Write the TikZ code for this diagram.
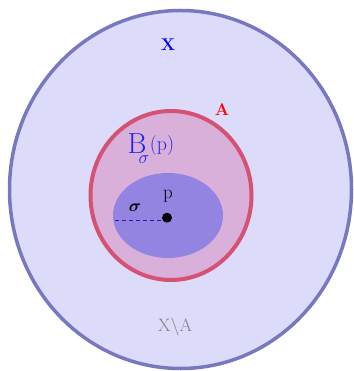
\documentclass[tikz,border=0pt]{standalone}
\usepackage{fix-cm}
\usepackage{amsmath, amssymb}
\usepackage{fontspec}
\usepackage[dvipsnames]{xcolor}
\usepackage{tikz}

\definecolor{spacefill}{RGB}{220,220,250}
\definecolor{spaceline}{RGB}{120,120,192}
\definecolor{setfill}{RGB}{216,176,218}
\definecolor{setline}{RGB}{214,82,116}
\definecolor{ballfill}{RGB}{148,132,226}
\definecolor{radline}{RGB}{30,30,190}
\definecolor{ballname}{RGB}{30,40,240}

\begin{document}
\begin{tikzpicture}[x=1pt, y=-1pt]
  \useasboundingbox (0,0) rectangle (353,371);
  \draw[fill=spacefill, draw=spaceline, line width=3.5pt] (180.5,189.5) ellipse [x radius=171, y radius=179];
  \draw[fill=setfill, draw=setline, line width=4pt] (171,195.5) ellipse [x radius=80.5, y radius=84.5];
  \fill[ballfill] (168,215.5) ellipse [x radius=55, y radius=42.5];
  \node[circle, fill=black, inner sep=0pt, minimum size=10pt] (pt) at (167,217.7) {};
  \coordinate (rad) at (115,220.5);
  \draw[radline, line width=1.5pt, dash pattern=on 4pt off 3pt] (rad) -- (rad -| pt.west);
  \node (lblp) at (168,196) {\fontsize{19}{21}\selectfont p};
  \node (lblsig) at (135,208) {\fontsize{17}{19}\selectfont $\boldsymbol{\sigma}$};
  \node[ballname, inner sep=0pt] (lblball) at (151,149) {\fontsize{29}{32}\selectfont B\kern-8pt\raisebox{-10pt}{\fontsize{18}{20}\selectfont$\sigma$}\kern0.5pt\raisebox{3pt}{\fontsize{20}{22}\selectfont(p)}};
  \node[red, font=\bfseries] (lblA) at (222,110) {\fontsize{17}{19}\selectfont A};
  \node[blue, font=\bfseries] (lblX) at (168,45) {\fontsize{17}{19}\selectfont X};
  \node[gray] (lblXA) at (175,327) {\fontsize{18}{20}\selectfont X$\backslash$A};
\end{tikzpicture}
\end{document}
